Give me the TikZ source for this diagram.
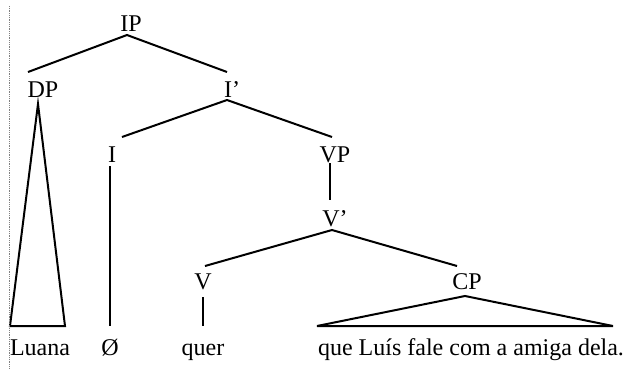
\documentclass[tikz,border=0pt]{standalone}
\usepackage{fontspec}
\setmainfont{Liberation Serif}
\begin{document}
\begin{tikzpicture}[x=1pt,y=-1pt,
  lab/.style={anchor=base,inner sep=0pt,font=\fontsize{24}{28}\selectfont},
  branch/.style={line width=2pt,line join=miter},
  margin/.style={gray,densely dotted,line width=0.8pt}]
\useasboundingbox (0,0) rectangle (630,368);
% labels
\node[lab] (IP) at (131,31) {IP};
\node[lab] (DP) at (43,97) {DP};
\node[lab] (Ib) at (232,97) {I’};
\node[lab] (I) at (112,162) {I};
\node[lab] (VP) at (335,162) {VP};
\node[lab] (Vb) at (335,226) {V’};
\node[lab] (V) at (203,289) {V};
\node[lab] (CP) at (467,289) {CP};
\node[lab] (luana) at (40,355) {Luana};
\node[lab] (empty) at (110,355) {Ø};
\node[lab] (quer) at (203,355) {quer};
\node[lab] (clause) at (471,355) {que Luís fale com a amiga dela.};
% connector end points
\coordinate (IPs) at (127,35);
\coordinate (DPn) at (28,72);
\coordinate (Ibn) at (227,72);
\coordinate (Ibs) at (227,100);
\coordinate (In) at (122,137);
\coordinate (VPn) at (332,137);
\coordinate (Is) at (110,166);
\coordinate (emptyn) at (110,326);
\coordinate (VPs) at (330,163);
\coordinate (Vbn) at (330,200);
\coordinate (Vbs) at (332,230);
\coordinate (Vn) at (205,266);
\coordinate (CPn) at (457,266);
\coordinate (Vs) at (203,297);
\coordinate (quern) at (203,326);
\coordinate (DPs) at (38,104);
\coordinate (luanaL) at (10,326);
\coordinate (luanaR) at (65,326);
\coordinate (CPs) at (465,296);
\coordinate (clauseL) at (317,326);
\coordinate (clauseR) at (613,326);
% branches
\draw[branch] (DPn) -- (IPs) -- (Ibn);
\draw[branch] (In) -- (Ibs) -- (VPn);
\draw[branch] (Is) -- (emptyn);
\draw[branch] (VPs) -- (Vbn);
\draw[branch] (Vn) -- (Vbs) -- (CPn);
\draw[branch] (Vs) -- (quern);
\draw[branch] (DPs) -- (luanaL) -- (luanaR) -- cycle;
\draw[branch] (CPs) -- (clauseL) -- (clauseR) -- cycle;
% margin mark
\coordinate (mtop) at (9,6);
\coordinate (mbot) at (9,368);
\draw[margin] (mtop) -- (mbot);
\end{tikzpicture}
\end{document}
